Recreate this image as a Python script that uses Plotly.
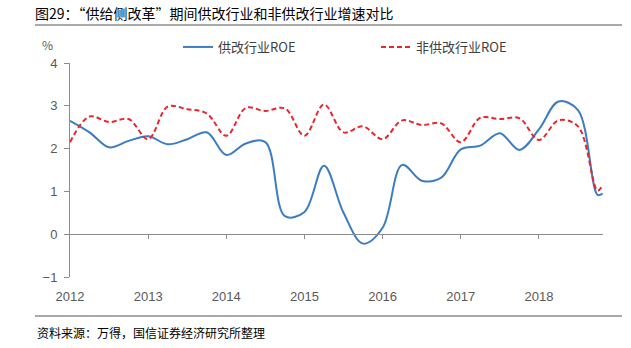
import plotly.graph_objects as go

# quarterly positions (decimal years), last point is the final partial reading
periods = [2012.0, 2012.25, 2012.5, 2012.75,
           2013.0, 2013.25, 2013.5, 2013.75,
           2014.0, 2014.25, 2014.5, 2014.75,
           2015.0, 2015.25, 2015.5, 2015.75,
           2016.0, 2016.25, 2016.5, 2016.75,
           2017.0, 2017.25, 2017.5, 2017.75,
           2018.0, 2018.25, 2018.5, 2018.75, 2018.815]

supply_reform_roe = [2.65, 2.38, 2.03, 2.18,
                     2.29, 2.10, 2.22, 2.38,
                     1.85, 2.12, 2.15, 0.42,
                     0.52, 1.60, 0.50, -0.22,
                     0.15, 1.62, 1.25, 1.32,
                     1.98, 2.07, 2.36, 1.97,
                     2.45, 3.10, 2.90, 0.92, 0.95]

non_reform_roe = [2.15, 2.75, 2.62, 2.69,
                  2.22, 2.98, 2.92, 2.82,
                  2.30, 2.95, 2.88, 2.94,
                  2.30, 3.03, 2.38, 2.52,
                  2.22, 2.66, 2.55, 2.59,
                  2.15, 2.72, 2.69, 2.71,
                  2.20, 2.66, 2.52, 1.02, 1.14]

year_ticks = [2012, 2013, 2014, 2015, 2016, 2017, 2018]
year_labels = ["2012", "2013", "2014", "2015", "2016", "2017", "2018"]
y_ticks = [-1, 0, 1, 2, 3, 4]
y_labels = ["\u22121", "0", "1", "2", "3", "4"]

title_text = "图29：“供给侧改革”期间供改行业和非供改行业增速对比"
source_text = "资料来源：万得，国信证券经济研究所整理"
name_a = "供改行业ROE"
name_b = "非供改行业ROE"

W, H = 631, 348
L, R, T, B = 70, 28, 63, 71
PW, PH = W - L - R, H - T - B

tick_font = dict(family="Liberation Sans, Arial, sans-serif", size=13, color="#595959")
cjk = "Noto Sans CJK SC, sans-serif"

fig = go.Figure()
fig.add_trace(go.Scatter(
    x=periods, y=supply_reform_roe, name=name_a, mode="lines", legend="legend",
    line=dict(color="#3B7DC2", width=2, shape="spline", smoothing=1.0),
    hoverinfo="skip"))
fig.add_trace(go.Scatter(
    x=periods, y=non_reform_roe, name=name_b, mode="lines", legend="legend2",
    line=dict(color="#E8262E", width=2, dash="5px,3px", shape="spline", smoothing=1.0),
    hoverinfo="skip"))
# invisible carrier trace for the label axis
fig.add_trace(go.Scatter(
    x=periods, y=supply_reform_roe, xaxis="x2", mode="lines",
    line=dict(width=0), opacity=0, showlegend=False, hoverinfo="skip"))

xr = [2012.0, 2018.82]
yr = [-1, 4]
zero_pos = (0 - yr[0]) / (yr[1] - yr[0])

leg_common = dict(orientation="h", xanchor="left",
                  y=1 + (T - 47) / PH, yanchor="middle",
                  font=dict(family=cjk, size=13, color="#404040"),
                  bgcolor="rgba(0,0,0,0)", itemwidth=30)

fig.update_layout(
    width=W, height=H,
    margin=dict(l=L, r=R, t=T, b=B, pad=0),
    paper_bgcolor="white", plot_bgcolor="white",
    showlegend=True,
    legend=dict(x=(178 - L) / PW, **leg_common),
    legend2=dict(x=(376 - L) / PW, **leg_common),
    xaxis=dict(range=xr, anchor="free", position=zero_pos,
               showline=True, linecolor="#8c8c8c", linewidth=1,
               ticks="outside", ticklen=4, tickcolor="#8c8c8c",
               tickvals=year_ticks[1:], showticklabels=False,
               showgrid=False, zeroline=False),
    xaxis2=dict(range=xr, overlaying="x", anchor="y", side="bottom",
                showline=False, showgrid=False, zeroline=False,
                tickvals=year_ticks, ticktext=year_labels,
                ticks="outside", ticklen=7, tickcolor="rgba(0,0,0,0)",
                tickfont=tick_font),
    yaxis=dict(range=yr, showline=True, linecolor="#8c8c8c", linewidth=1,
               ticks="outside", ticklen=5, tickcolor="#8c8c8c",
               tickvals=y_ticks, ticktext=y_labels, tickfont=tick_font,
               showgrid=False, zeroline=False, ticklabelstandoff=4),
    title=dict(text=title_text, x=35 / W, xref="container",
               xanchor="left", y=1 - 14 / H, yanchor="middle",
               font=dict(family=cjk, size=14, color="#000000")),
)

fig.add_annotation(text="%", xref="paper", yref="paper",
                   x=(47 - L) / PW, y=1 + (T - 44) / PH,
                   showarrow=False, font=dict(family=cjk, size=12, color="#595959"),
                   xanchor="center", yanchor="middle")
fig.add_annotation(text=source_text, xref="paper", yref="paper",
                   x=(35 - L) / PW, y=-(332 - (H - B)) / PH,
                   showarrow=False, font=dict(family=cjk, size=12, color="#000000"),
                   xanchor="left", yanchor="middle")

# decorative rules above/below the chart
for yy in (25, 316):
    fig.add_shape(type="line", xref="paper", yref="paper",
                  x0=(35 - L) / PW, x1=(622 - L) / PW,
                  y0=1 - (yy - T) / PH, y1=1 - (yy - T) / PH,
                  line=dict(color="#8c8c8c", width=1.5))

fig.write_html("out.html")
